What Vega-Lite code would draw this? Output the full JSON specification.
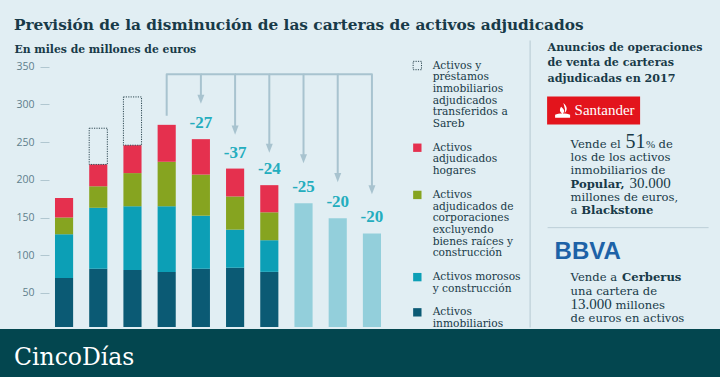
{
  "$schema": "https://vega.github.io/schema/vega-lite/v6.json",
  "background": "#e1eef3",
  "padding": {"top": 17, "left": 0, "right": 0, "bottom": 0},
  "title": {"text": "Previsión de la disminución de las carteras de activos adjudicados", "anchor": "start", "dx": 14, "offset": 7, "font": "DejaVu Serif", "fontSize": 15.35, "fontWeight": "bold", "color": "#183a48"},
  "config": {"view": {"stroke": null}, "style": {"guide-label": {"lineHeight": 11.7}}},
  "spacing": 0,
  "resolve": {"legend": {"color": "independent", "stroke": "independent", "strokeDash": "independent"}, "scale": {"x": "independent", "y": "independent"}},
  "vconcat": [
    {
      "spacing": 8.6,
      "resolve": {"legend": {"color": "independent", "stroke": "independent", "strokeDash": "independent"}, "scale": {"x": "independent", "y": "independent"}},
      "hconcat": [
        {
          "width": 387,
          "height": 287,
          "encoding": {
            "x": {"field": "anio", "type": "nominal", "axis": null, "scale": {"domain": ["2011","2012","2013","2014","2015","2016","2017","2018","2019","2020"], "paddingInner": 0.47, "paddingOuter": 0.8915, "align": 0.9016}},
            "y": {"field": "valor", "type": "quantitative",
              "scale": {"domain": [4.9, 385.5], "clamp": true, "nice": false, "zero": false},
              "axis": {"offset": -49, "title": "En miles de millones de euros", "titleAngle": 0, "titleAlign": "left", "titleBaseline": "alphabetic", "titleX": -35, "titleY": 12, "titleFont": "DejaVu Serif", "titleFontSize": 10.8, "titleFontWeight": "bold", "titleColor": "#183a48", "values": [50,100,150,200,250,300,350], "domain": false, "grid": false, "tickSize": 9, "tickColor": "#b1c7d0", "labelPadding": 6, "labelFont": "Open Sans", "labelFontSize": 10.5, "labelColor": "#5f7f8c"}}
          },
          "layer": [
            {
              "data": {"values": [
                {"anio":"2011","serie":"Activos inmobiliarios","valor":70,"orden":1},
                {"anio":"2011","serie":"Activos morosos y construcción","valor":58,"orden":2},
                {"anio":"2011","serie":"Activos adjudicados de corporaciones excluyendo bienes raíces y construcción","valor":22,"orden":3},
                {"anio":"2011","serie":"Activos adjudicados hogares","valor":26,"orden":4},
                {"anio":"2012","serie":"Activos inmobiliarios","valor":82,"orden":1},
                {"anio":"2012","serie":"Activos morosos y construcción","valor":81,"orden":2},
                {"anio":"2012","serie":"Activos adjudicados de corporaciones excluyendo bienes raíces y construcción","valor":28.5,"orden":3},
                {"anio":"2012","serie":"Activos adjudicados hogares","valor":29,"orden":4},
                {"anio":"2012","serie":"Activos y préstamos inmobiliarios adjudicados transferidos a Sareb","valor":48,"orden":5},
                {"anio":"2013","serie":"Activos inmobiliarios","valor":80.5,"orden":1},
                {"anio":"2013","serie":"Activos morosos y construcción","valor":84.5,"orden":2},
                {"anio":"2013","serie":"Activos adjudicados de corporaciones excluyendo bienes raíces y construcción","valor":44,"orden":3},
                {"anio":"2013","serie":"Activos adjudicados hogares","valor":37,"orden":4},
                {"anio":"2013","serie":"Activos y préstamos inmobiliarios adjudicados transferidos a Sareb","valor":64,"orden":5},
                {"anio":"2014","serie":"Activos inmobiliarios","valor":78,"orden":1},
                {"anio":"2014","serie":"Activos morosos y construcción","valor":87,"orden":2},
                {"anio":"2014","serie":"Activos adjudicados de corporaciones excluyendo bienes raíces y construcción","valor":59,"orden":3},
                {"anio":"2014","serie":"Activos adjudicados hogares","valor":49,"orden":4},
                {"anio":"2015","serie":"Activos inmobiliarios","valor":82,"orden":1},
                {"anio":"2015","serie":"Activos morosos y construcción","valor":70.5,"orden":2},
                {"anio":"2015","serie":"Activos adjudicados de corporaciones excluyendo bienes raíces y construcción","valor":54.5,"orden":3},
                {"anio":"2015","serie":"Activos adjudicados hogares","valor":47,"orden":4},
                {"anio":"2016","serie":"Activos inmobiliarios","valor":83.5,"orden":1},
                {"anio":"2016","serie":"Activos morosos y construcción","valor":50.5,"orden":2},
                {"anio":"2016","serie":"Activos adjudicados de corporaciones excluyendo bienes raíces y construcción","valor":44,"orden":3},
                {"anio":"2016","serie":"Activos adjudicados hogares","valor":37,"orden":4},
                {"anio":"2017","serie":"Activos inmobiliarios","valor":78,"orden":1},
                {"anio":"2017","serie":"Activos morosos y construcción","valor":42,"orden":2},
                {"anio":"2017","serie":"Activos adjudicados de corporaciones excluyendo bienes raíces y construcción","valor":37,"orden":3},
                {"anio":"2017","serie":"Activos adjudicados hogares","valor":36,"orden":4}
              ]},
              "mark": {"type": "bar", "strokeWidth": 1},
              "encoding": {
                "color": {"field": "serie", "type": "nominal",
                  "scale": {"domain": ["Activos y préstamos inmobiliarios adjudicados transferidos a Sareb","Activos adjudicados hogares","Activos adjudicados de corporaciones excluyendo bienes raíces y construcción","Activos morosos y construcción","Activos inmobiliarios"], "range": ["transparent","#e5304e","#86a420","#0c9fb6","#0b5a74"]},
                  "legend": {"title": " ", "titleFontSize": 1, "titlePadding": 19.2, "orient": "right", "offset": 25, "padding": 0, "symbolType": "square", "symbolSize": 70, "symbolStrokeWidth": 1, "labelFont": "DejaVu Serif", "labelFontSize": 10.65, "labelColor": "#183a48", "labelOffset": 10, "labelLimit": 300, "rowPadding": 12.2, "labelBaseline": "middle",
                    "labelExpr": "datum.label == 'Activos y préstamos inmobiliarios adjudicados transferidos a Sareb' ? ['Activos y','préstamos','inmobiliarios','adjudicados','transferidos a','Sareb'] : datum.label == 'Activos adjudicados hogares' ? ['Activos','adjudicados','hogares'] : datum.label == 'Activos adjudicados de corporaciones excluyendo bienes raíces y construcción' ? ['Activos','adjudicados de','corporaciones','excluyendo','bienes raíces y','construcción'] : datum.label == 'Activos morosos y construcción' ? ['Activos morosos','y construcción'] : ['Activos','inmobiliarios']"}},
                "stroke": {"field": "serie", "type": "nominal",
                  "scale": {"domain": ["Activos y préstamos inmobiliarios adjudicados transferidos a Sareb","Activos adjudicados hogares","Activos adjudicados de corporaciones excluyendo bienes raíces y construcción","Activos morosos y construcción","Activos inmobiliarios"], "range": ["#2e4852","transparent","transparent","transparent","transparent"]},
                  "legend": {"title": " ", "titleFontSize": 1, "titlePadding": 19.2, "orient": "right", "offset": 25, "padding": 0, "symbolType": "square", "symbolSize": 70, "symbolStrokeWidth": 1, "labelFont": "DejaVu Serif", "labelFontSize": 10.65, "labelColor": "#183a48", "labelOffset": 10, "labelLimit": 300, "rowPadding": 12.2, "labelBaseline": "middle",
                    "labelExpr": "datum.label == 'Activos y préstamos inmobiliarios adjudicados transferidos a Sareb' ? ['Activos y','préstamos','inmobiliarios','adjudicados','transferidos a','Sareb'] : datum.label == 'Activos adjudicados hogares' ? ['Activos','adjudicados','hogares'] : datum.label == 'Activos adjudicados de corporaciones excluyendo bienes raíces y construcción' ? ['Activos','adjudicados de','corporaciones','excluyendo','bienes raíces y','construcción'] : datum.label == 'Activos morosos y construcción' ? ['Activos morosos','y construcción'] : ['Activos','inmobiliarios']"}},
                "strokeDash": {"field": "serie", "type": "nominal",
                  "scale": {"domain": ["Activos y préstamos inmobiliarios adjudicados transferidos a Sareb","Activos adjudicados hogares","Activos adjudicados de corporaciones excluyendo bienes raíces y construcción","Activos morosos y construcción","Activos inmobiliarios"], "range": [[1.2,1.2],[1,0],[1,0],[1,0],[1,0]]},
                  "legend": {"title": " ", "titleFontSize": 1, "titlePadding": 19.2, "orient": "right", "offset": 25, "padding": 0, "symbolType": "square", "symbolSize": 70, "symbolStrokeWidth": 1, "labelFont": "DejaVu Serif", "labelFontSize": 10.65, "labelColor": "#183a48", "labelOffset": 10, "labelLimit": 300, "rowPadding": 12.2, "labelBaseline": "middle",
                    "labelExpr": "datum.label == 'Activos y préstamos inmobiliarios adjudicados transferidos a Sareb' ? ['Activos y','préstamos','inmobiliarios','adjudicados','transferidos a','Sareb'] : datum.label == 'Activos adjudicados hogares' ? ['Activos','adjudicados','hogares'] : datum.label == 'Activos adjudicados de corporaciones excluyendo bienes raíces y construcción' ? ['Activos','adjudicados de','corporaciones','excluyendo','bienes raíces y','construcción'] : datum.label == 'Activos morosos y construcción' ? ['Activos morosos','y construcción'] : ['Activos','inmobiliarios']"}},
                "order": {"field": "orden", "type": "quantitative"}
              }
            },
            {
              "data": {"values": [
                {"anio":"2018","valor":169},
                {"anio":"2019","valor":149},
                {"anio":"2020","valor":129}
              ]},
              "mark": {"type": "bar", "color": "#93cfdb"}
            },
            {
              "data": {"values": [
                {"arco":1,"paso":1,"anio":"2014","valor":285},
                {"arco":1,"paso":2,"anio":"2014","valor":340},
                {"arco":1,"paso":3,"anio":"2015","valor":340},
                {"arco":1,"paso":4,"anio":"2015","valor":307},
                {"arco":2,"paso":1,"anio":"2015","valor":340},
                {"arco":2,"paso":2,"anio":"2016","valor":340},
                {"arco":2,"paso":3,"anio":"2016","valor":266},
                {"arco":3,"paso":1,"anio":"2016","valor":340},
                {"arco":3,"paso":2,"anio":"2017","valor":340},
                {"arco":3,"paso":3,"anio":"2017","valor":242},
                {"arco":4,"paso":1,"anio":"2017","valor":340},
                {"arco":4,"paso":2,"anio":"2018","valor":340},
                {"arco":4,"paso":3,"anio":"2018","valor":228},
                {"arco":5,"paso":1,"anio":"2018","valor":340},
                {"arco":5,"paso":2,"anio":"2019","valor":340},
                {"arco":5,"paso":3,"anio":"2019","valor":203},
                {"arco":6,"paso":1,"anio":"2019","valor":340},
                {"arco":6,"paso":2,"anio":"2020","valor":340},
                {"arco":6,"paso":3,"anio":"2020","valor":187}
              ]},
              "mark": {"type": "line", "color": "#a8c3cf", "strokeWidth": 2, "strokeJoin": "round"},
              "encoding": {
                "detail": {"field": "arco", "type": "nominal"},
                "order": {"field": "paso", "type": "quantitative"}
              }
            },
            {
              "data": {"values": [
                {"anio":"2015","valor":307},
                {"anio":"2016","valor":266},
                {"anio":"2017","valor":242},
                {"anio":"2018","valor":228},
                {"anio":"2019","valor":203},
                {"anio":"2020","valor":187}
              ]},
              "mark": {"type": "point", "shape": "M-1,-1.3L1,-1.3L0,1.3Z", "size": 49, "filled": true, "color": "#a8c3cf", "opacity": 1}
            },
            {
              "data": {"values": [
                {"anio":"2015","valor":254,"etiqueta":"-27"},
                {"anio":"2016","valor":215,"etiqueta":"-37"},
                {"anio":"2017","valor":193,"etiqueta":"-24"},
                {"anio":"2018","valor":169,"etiqueta":"-25"},
                {"anio":"2019","valor":149,"etiqueta":"-20"},
                {"anio":"2020","valor":129,"etiqueta":"-20"}
              ]},
              "mark": {"type": "text", "dy": -16, "baseline": "middle", "align": "center", "font": "Liberation Serif", "fontSize": 17, "fontWeight": "bold", "color": "#24adbe"},
              "encoding": {
                "text": {"field": "etiqueta"}
              }
            }
          ]
        },
        {
          "width": 193,
          "height": 287,
          "data": {"values": [
            {"tramo":"titular","texto":"Anuncios de operaciones","linea":0.78,"columna":"c0"},
            {"tramo":"titular","texto":"de venta de carteras","linea":1.9,"columna":"c0"},
            {"tramo":"titular","texto":"adjudicadas en 2017","linea":3.05,"columna":"c0"},
            {"tramo":"caja","linea":5.16,"columna":"c2"},
            {"tramo":"santander","texto":"Santander","linea":5.49,"columna":"c2"},
            {"tramo":"normal","texto":"Vende el","linea":7.9,"columna":"c1"},
            {"tramo":"cifra51","texto":"51","linea":7.9,"columna":"c1"},
            {"tramo":"pct","texto":"%","linea":7.9,"columna":"c1"},
            {"tramo":"de","texto":"de","linea":7.9,"columna":"c1"},
            {"tramo":"normal","texto":"los de los activos","linea":8.87,"columna":"c1"},
            {"tramo":"normal","texto":"inmobiliarios de","linea":9.83,"columna":"c1"},
            {"tramo":"negrita","texto":"Popular,","linea":10.8,"columna":"c1"},
            {"tramo":"cifra30","texto":"30.000","linea":10.8,"columna":"c1"},
            {"tramo":"normal","texto":"millones de euros,","linea":11.77,"columna":"c1"},
            {"tramo":"normal","texto":"a","linea":12.73,"columna":"c1"},
            {"tramo":"blackstone","texto":"Blackstone","linea":12.73,"columna":"c1"},
            {"tramo":"separador","linea":13.73,"columna":"c0","columna_fin":"c7"},
            {"tramo":"bbva","texto":"BBVA","linea":16.06,"columna":"c0"},
            {"tramo":"normal","texto":"Vende a","linea":17.61,"columna":"c1"},
            {"tramo":"cerberus","texto":"Cerberus","linea":17.61,"columna":"c1"},
            {"tramo":"normal","texto":"una cartera de","linea":18.66,"columna":"c1"},
            {"tramo":"cifra13","texto":"13.000","linea":19.71,"columna":"c1"},
            {"tramo":"millones","texto":"millones","linea":19.71,"columna":"c1"},
            {"tramo":"normal","texto":"de euros en activos","linea":20.61,"columna":"c1"}
          ]},
          "encoding": {
            "x": {"field": "columna", "type": "nominal", "axis": null, "scale": {"type": "point", "domain": ["c0","c1","c2","c3","c4","c5","c6","c7"], "range": [18, 179], "padding": 0}},
            "y": {"field": "linea", "type": "quantitative", "scale": {"domain": [0, 21], "reverse": true, "nice": false, "zero": false}, "axis": {"title": null, "labels": false, "ticks": false, "grid": false, "domain": true, "domainColor": "#b5c9d2", "domainWidth": 1}}
          },
          "layer": [
            {"transform": [{"filter": "datum.tramo == 'caja'"}], "mark": {"type": "point", "shape": "M-1,-0.3L1,-0.3L1,0.3L-1,0.3Z", "size": 8649, "filled": true, "color": "#e3141c", "opacity": 1, "strokeWidth": 0}},
            {"transform": [{"filter": "datum.tramo == 'caja'"}], "mark": {"type": "point", "shape": "M0.1,-1C0.75,-0.45 0.6,0.05 0.25,0.35C0.45,-0.05 0.25,-0.4 0.1,-1ZM-0.2,-0.5C0.35,-0.05 0.3,0.2 0,0.42C-0.4,0.2 -0.45,-0.1 -0.2,-0.5ZM-1,0.55C-0.6,0.35 0.6,0.35 1,0.55L1,0.95L-1,0.95Z", "size": 225, "filled": true, "color": "#ffffff", "opacity": 1, "xOffset": -31}},
            {"transform": [{"filter": "datum.tramo == 'santander'"}], "mark": {"type": "text", "align": "left", "baseline": "alphabetic", "dx": -19, "font": "Liberation Serif", "fontSize": 15, "color": "#ffffff"}, "encoding": {"text": {"field": "texto"}}},
            {"transform": [{"filter": "datum.tramo == 'separador'"}], "mark": {"type": "rule", "color": "#bccfd7", "strokeWidth": 1}, "encoding": {"x2": {"field": "columna_fin"}}},
            {"transform": [{"filter": "datum.tramo == 'titular'"}], "mark": {"type": "text", "align": "left", "baseline": "alphabetic", "font": "DejaVu Serif", "fontSize": 11.1, "fontWeight": "bold", "color": "#183a48"}, "encoding": {"text": {"field": "texto"}}},
            {"transform": [{"filter": "datum.tramo == 'normal'"}], "mark": {"type": "text", "align": "left", "baseline": "alphabetic", "font": "DejaVu Serif", "fontSize": 11.6, "color": "#183a48"}, "encoding": {"text": {"field": "texto"}}},
            {"transform": [{"filter": "datum.tramo == 'negrita'"}], "mark": {"type": "text", "align": "left", "baseline": "alphabetic", "font": "DejaVu Serif", "fontSize": 11.6, "fontWeight": "bold", "color": "#183a48"}, "encoding": {"text": {"field": "texto"}}},
            {"transform": [{"filter": "datum.tramo == 'cifra13'"}], "mark": {"type": "text", "align": "left", "baseline": "alphabetic", "font": "Liberation Serif", "fontSize": 15, "color": "#183a48"}, "encoding": {"text": {"field": "texto"}}},
            {"transform": [{"filter": "datum.tramo == 'cifra51'"}], "mark": {"type": "text", "align": "left", "baseline": "alphabetic", "dx": 55, "font": "Liberation Serif", "fontSize": 20, "color": "#183a48"}, "encoding": {"text": {"field": "texto"}}},
            {"transform": [{"filter": "datum.tramo == 'pct'"}], "mark": {"type": "text", "align": "left", "baseline": "alphabetic", "dx": 75.5, "font": "Liberation Serif", "fontSize": 11, "color": "#183a48"}, "encoding": {"text": {"field": "texto"}}},
            {"transform": [{"filter": "datum.tramo == 'de'"}], "mark": {"type": "text", "align": "left", "baseline": "alphabetic", "dx": 88, "font": "DejaVu Serif", "fontSize": 11.6, "color": "#183a48"}, "encoding": {"text": {"field": "texto"}}},
            {"transform": [{"filter": "datum.tramo == 'cifra30'"}], "mark": {"type": "text", "align": "left", "baseline": "alphabetic", "dx": 59, "font": "Liberation Serif", "fontSize": 15, "color": "#183a48"}, "encoding": {"text": {"field": "texto"}}},
            {"transform": [{"filter": "datum.tramo == 'blackstone'"}], "mark": {"type": "text", "align": "left", "baseline": "alphabetic", "dx": 10.6, "font": "DejaVu Serif", "fontSize": 11.6, "fontWeight": "bold", "color": "#183a48"}, "encoding": {"text": {"field": "texto"}}},
            {"transform": [{"filter": "datum.tramo == 'cerberus'"}], "mark": {"type": "text", "align": "left", "baseline": "alphabetic", "dx": 51.5, "font": "DejaVu Serif", "fontSize": 11.6, "fontWeight": "bold", "color": "#183a48"}, "encoding": {"text": {"field": "texto"}}},
            {"transform": [{"filter": "datum.tramo == 'millones'"}], "mark": {"type": "text", "align": "left", "baseline": "alphabetic", "dx": 45, "font": "DejaVu Serif", "fontSize": 11.6, "color": "#183a48"}, "encoding": {"text": {"field": "texto"}}},
            {"transform": [{"filter": "datum.tramo == 'bbva'"}], "mark": {"type": "text", "align": "left", "baseline": "alphabetic", "dx": 7, "font": "Liberation Sans", "fontSize": 24, "fontWeight": "bold", "color": "#1d62a7"}, "encoding": {"text": {"field": "texto"}}}
          ]
        }
      ]
    },
    {
      "width": 720,
      "height": 50,
      "view": {"fill": "#03464f", "stroke": null},
      "data": {"values": [{"medio": "CincoDías"}]},
      "mark": {"type": "text", "align": "left", "baseline": "alphabetic", "dx": 14, "dy": 11, "font": "DejaVu Serif", "fontSize": 23.5, "color": "#ffffff"},
      "encoding": {
        "text": {"field": "medio"},
        "x": {"field": "medio", "type": "nominal", "axis": null, "scale": {"type": "point", "padding": 0, "align": 0}}
      }
    }
  ]
}
